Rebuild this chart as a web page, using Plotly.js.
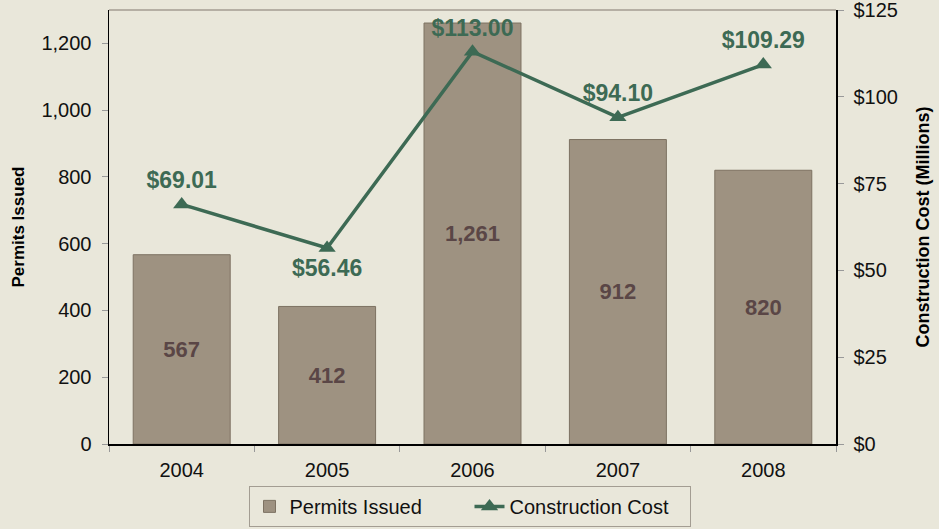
<!DOCTYPE html>
<html>
<head>
<meta charset="utf-8">
<script src="https://cdn.plot.ly/plotly-3.0.1.min.js"></script>
<style>html,body{margin:0;padding:0;background:#e9e7da;}#chart{width:939px;height:529px;}</style>
</head>
<body>
<div id="chart"></div>
<script>
const years = ['2004', '2005', '2006', '2007', '2008'];
const permits = [567, 412, 1261, 912, 820];
const permitLabels = ['567', '412', '1,261', '912', '820'];
const costs = [69.01, 56.46, 113.00, 94.10, 109.29];
const costLabels = ['$69.01', '$56.46', '$113.00', '$94.10', '$109.29'];
const costLabelPos = ['top center', 'bottom center', 'top center', 'top center', 'top center'];

const bg = '#e9e7da';
const barColor = '#9e9281';
const green = '#3d6a54';
const FONT = 'Arial, "Liberation Sans", sans-serif';

const traces = [
  {
    type: 'bar', name: 'Permits Issued', x: years, y: permits,
    text: permitLabels, textposition: 'inside', insidetextanchor: 'middle',
    textfont: {family: FONT, size: 22, color: '#5a4646', weight: 'bold'},
    marker: {color: barColor, line: {color: '#7d7262', width: 1}},
    hoverinfo: 'x+y'
  },
  {
    type: 'scatter', mode: 'lines+markers+text', name: 'Construction Cost',
    x: years, y: costs, yaxis: 'y2',
    text: costLabels, textposition: costLabelPos,
    textfont: {family: FONT, size: 23, color: green, weight: 'bold'},
    line: {color: green, width: 3.5},
    marker: {symbol: 'triangle-up', size: 15, color: green},
    cliponaxis: false
  }
];

const layout = {
  width: 939, height: 529,
  paper_bgcolor: bg, plot_bgcolor: bg,
  margin: {l: 109, r: 103, t: 10, b: 85},
  font: {family: FONT, size: 20, color: '#111'},
  bargap: 0.333,
  showlegend: true,
  legend: {
    orientation: 'h', xref: 'container', yref: 'container',
    x: 0.5, xanchor: 'center', y: 0.004, yanchor: 'bottom',
    bgcolor: 'rgba(0,0,0,0)', bordercolor: '#a39d92', borderwidth: 1,
    font: {family: FONT, size: 20, color: '#111'}, traceorder: 'normal',
    itemwidth: 30, entrywidth: 175, entrywidthmode: 'pixels'
  },
  xaxis: {
    type: 'category', showline: true, linecolor: '#000', linewidth: 1.5,
    ticks: 'outside', tickson: 'boundaries', ticklen: 6, tickcolor: '#999',
    ticklabelstandoff: 7,
    showgrid: false, zeroline: false, fixedrange: true,
    tickfont: {family: FONT, size: 20, color: '#111'}
  },
  yaxis: {
    range: [0, 1300], dtick: 200, tickformat: ',d',
    showline: true, linecolor: '#000', linewidth: 1.5,
    ticks: 'outside', ticklen: 6, tickcolor: '#999',
    ticklabelstandoff: 6, ticklabeloverflow: 'allow',
    showgrid: false, zeroline: false,
    tickfont: {family: FONT, size: 20, color: '#111'},
    title: {text: 'Permits Issued', font: {family: FONT, size: 17, color: '#000', weight: 'bold'}, standoff: 12}
  },
  yaxis2: {
    overlaying: 'y', side: 'right', range: [0, 125], dtick: 25, tickprefix: '$',
    showline: true, linecolor: '#000', linewidth: 1.5,
    ticks: 'outside', ticklen: 6, tickcolor: '#999',
    ticklabelstandoff: 6, ticklabeloverflow: 'allow',
    showgrid: false, zeroline: false,
    tickfont: {family: FONT, size: 20, color: '#111'},
    title: {text: 'Construction Cost (Millions)', font: {family: FONT, size: 18, color: '#000', weight: 'bold'}, standoff: 19}
  },
  shapes: [
    {type: 'line', xref: 'paper', yref: 'paper', x0: 0, x1: 1, y0: 1, y1: 1, line: {color: '#a39d92', width: 1.5}}
  ]
};

Plotly.newPlot('chart', traces, layout, {displayModeBar: false, staticPlot: true});
</script>
</body>
</html>
